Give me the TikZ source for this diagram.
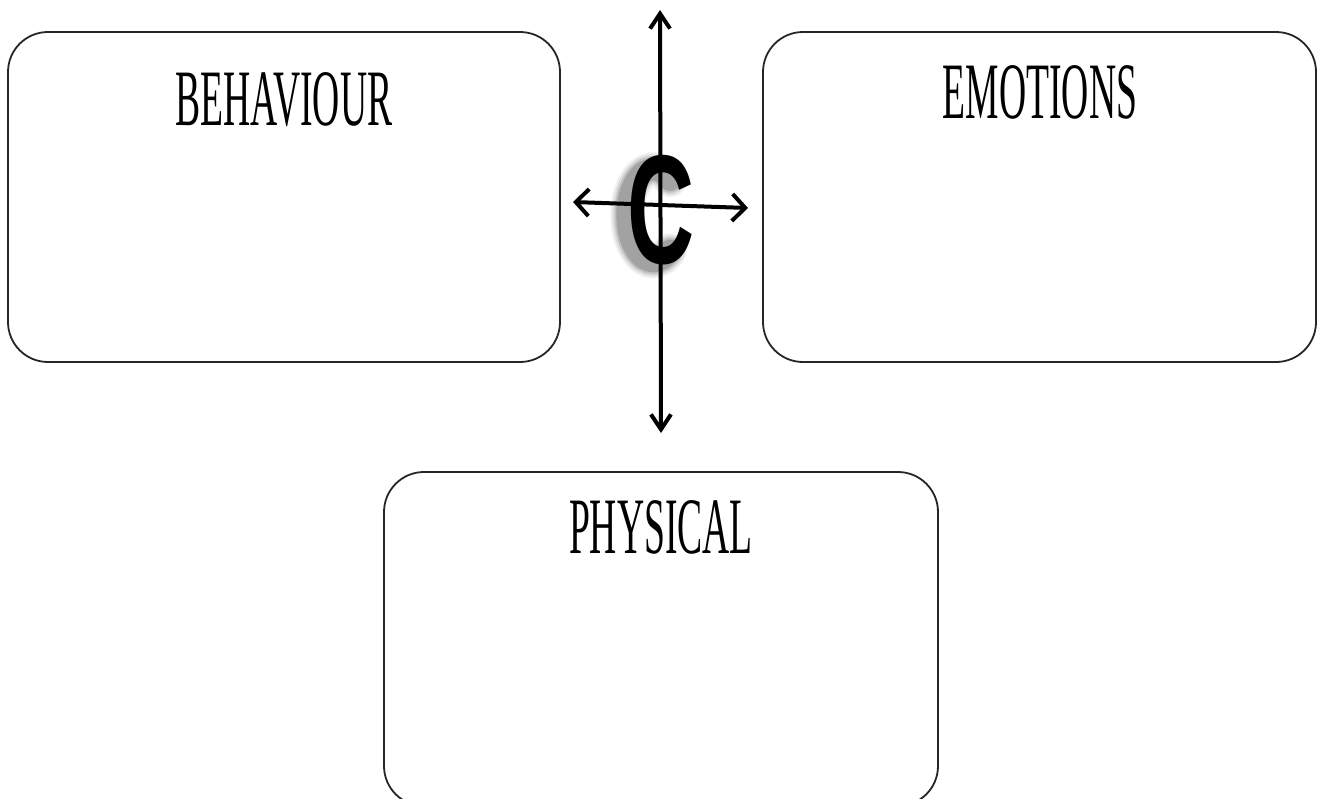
\documentclass[tikz,border=0pt]{standalone}
\usepackage{fontspec}
\usepackage{graphicx}
\setmainfont{Liberation Serif}
\newfontfamily\csans{Liberation Sans}
\usetikzlibrary{arrows.meta}
\tikzset{
  panel/.style={draw=black!85, line width=1.8pt, rounded corners=40pt, fill=white, inner sep=0pt},
  title/.style={anchor=base, inner sep=0pt, font=\fontsize{80}{90}\selectfont},
  bigc/.style={inner sep=0pt, font=\csans\bfseries\fontsize{155}{160}\selectfont},
  axis/.style={line width=4pt, black},
  cshadow/.style={draw=black, line cap=round},
}
\newcommand{\narrow}[1]{\scalebox{0.47}[1]{#1}}
\begin{document}
\begin{tikzpicture}[x=1pt,y=-1pt]
\clip (0,0) rectangle (1319,798);
\fill[white] (0,0) rectangle (1319,798);
% boxes
\node[panel, minimum width=552pt, minimum height=330pt] (beh) at (284,197) {};
\node[panel, minimum width=553pt, minimum height=330pt] (emo) at (1039.5,197) {};
\node[panel, minimum width=554pt, minimum height=334pt] (phy) at (661,639) {};
\node[title] (tbeh) at (284,125) {\narrow{BEHAVIOUR}};
\node[title] (temo) at (1040,118) {\narrow{EMOTIONS}};
\node[title] (tphy) at (661,553) {\narrow{PHYSICAL}};
% soft shadow of the C (drawn shapes)
\foreach \w/\o in {34/0.06,30/0.08,26/0.12,22/0.16} {
  \draw[cshadow, line width=\w pt, opacity=\o] (670,180) arc[start angle=-50, end angle=-310, x radius=26pt, y radius=-46pt];
}
% the C
\node[bigc, text=black] (c) at (661,210) {\scalebox{0.6}[1]{C}};
% arrows
\coordinate (vtop) at (660,10);
\coordinate (vbot) at (661,433);
\coordinate (hl) at (573,202);
\coordinate (hr) at (748,208);
\draw[axis, {Straight Barb[length=15pt,width=20pt]}-{Straight Barb[length=15pt,width=20pt]}] (vtop) -- (vbot);
\draw[axis, {Straight Barb[length=13pt,width=27pt]}-{Straight Barb[length=13pt,width=27pt]}] (hl) -- (hr);
\end{tikzpicture}
\end{document}
